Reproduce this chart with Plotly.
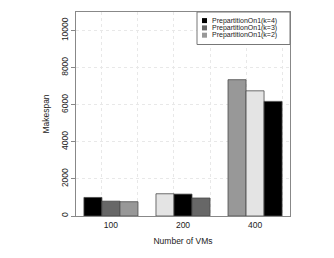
import plotly.graph_objects as go

categories = ["100", "200", "400"]
series_names = ["PrepartitionOn1(k=4)", "PrepartitionOn1(k=3)", "PrepartitionOn1(k=2)"]
values_k4 = [1000, 1200, 7350]
values_k3 = [800, 1180, 6750]
values_k2 = [770, 970, 6180]
series_values = [values_k4, values_k3, values_k2]
# R cycles 4 fill colours over the 9 bars (group-wise)
palette = ["#000000", "#676767", "#989898", "#e4e4e4"]
y_ticks = [0, 2000, 4000, 6000, 8000, 10000]

FONT = "Liberation Sans, Arial, sans-serif"
OFF = 8  # default body margin of the html page
W, H = 334 - OFF, 258 - OFF
L, R, T, B = 76 - OFF, 44, 12 - OFF, 42
pw, ph = W - L - R, H - T - B

fig = go.Figure()
nser = len(series_values)
for i, (name, vals) in enumerate(zip(series_names, series_values)):
    cols = [palette[(g * nser + i) % len(palette)] for g in range(len(categories))]
    fig.add_trace(go.Bar(
        x=categories, y=vals, name=name,
        marker=dict(color=cols, line=dict(color="#4a4a4a", width=0.8)),
        showlegend=False,
    ))

# invisible helper trace for dotted vertical grid (R grid())
fig.add_trace(go.Scatter(x=[0], y=[0], xaxis="x2", mode="markers",
                         marker=dict(opacity=0), showlegend=False, hoverinfo="skip"))

fig.update_layout(
    width=W, height=H,
    margin=dict(l=L, r=R, t=T, b=B),
    paper_bgcolor="white", plot_bgcolor="white",
    barmode="group", bargap=0.25, bargroupgap=0,
    font=dict(family=FONT, size=8, color="#222"),
    xaxis=dict(
        type="category", range=[-0.485, 2.485],
        showgrid=False, ticks="", showline=True, linecolor="#888", linewidth=1,
        mirror=True, tickfont=dict(size=8.5, color="#222"), ticklabelstandoff=1,
        title=dict(text="Number of VMs", font=dict(size=8.5), standoff=8),
        zeroline=False,
    ),
    xaxis2=dict(
        overlaying="x", range=[-0.44, 11.44], tick0=1, dtick=2,
        showgrid=True, gridcolor="#e8e8e8", griddash="dot", gridwidth=1,
        showticklabels=False, ticks="", zeroline=False, layer="below traces",
    ),
    yaxis=dict(
        range=[0, 11000], tickvals=y_ticks, ticktext=[str(v) for v in y_ticks],
        tickangle=-90, ticks="outside", ticklen=4, tickcolor="#888",
        showline=True, linecolor="#888", linewidth=1, mirror=True,
        showgrid=True, gridcolor="#e8e8e8", griddash="dot", gridwidth=1,
        zeroline=False, tickfont=dict(size=8.5, color="#222"),
        title=dict(text="Makespan", font=dict(size=8.5), standoff=8),
    ),
)

# R-style legend box (top-right inside the plot); coordinates in page pixels
def px_x(p):
    return (p - OFF - L) / pw

def px_y(p):
    return (H - B - (p - OFF)) / ph

lx0, lx1, ly0, ly1 = 197, 290, 12, 44.5
fig.add_shape(type="rect", xref="paper", yref="paper",
              x0=px_x(lx0), x1=px_x(lx1), y0=px_y(ly1), y1=px_y(ly0),
              line=dict(color="#777", width=1), fillcolor="white", layer="above")
row_y = [20.6, 27.9, 35.2]
for i, name in enumerate(series_names):
    cy = row_y[i]
    fig.add_shape(type="rect", xref="paper", yref="paper",
                  x0=px_x(202), x1=px_x(207), y0=px_y(cy + 2.5), y1=px_y(cy - 2.5),
                  line=dict(width=0), fillcolor=palette[i], layer="above")
    fig.add_annotation(xref="paper", yref="paper", x=px_x(211), y=px_y(cy),
                       text=name, showarrow=False, xanchor="left", yanchor="middle",
                       borderpad=0, font=dict(family=FONT, size=7.0, color="#222"))

fig.write_html("out.html")
